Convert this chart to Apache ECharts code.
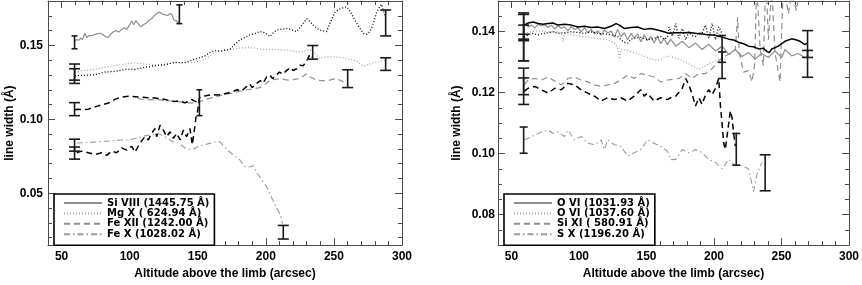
<!DOCTYPE html>
<html><head><meta charset="utf-8">
<script src="https://cdn.jsdelivr.net/npm/echarts@6/dist/echarts.min.js"></script>
<style>html,body{margin:0;padding:0;background:#fff}#c{width:862px;height:285px}</style>
</head><body><div id="c"></div>
<script>
// ---------- axes / ticks ----------
const xMajor = [50, 100, 150, 200, 250, 300];
const xMinor = [40, 50, 60, 70, 80, 90, 100, 110, 120, 130, 140, 150, 160, 170, 180, 190, 200, 210, 220, 230, 240, 250, 260, 270, 280, 290, 300];
const yLMajor = [0.05, 0.10, 0.15];
const yLMinor = [0.02, 0.03, 0.04, 0.05, 0.06, 0.07, 0.08, 0.09, 0.10, 0.11, 0.12, 0.13, 0.14, 0.15, 0.16, 0.17, 0.18];
const yRMajor = [0.08, 0.10, 0.12, 0.14];
const yRMinor = [0.07, 0.075, 0.08, 0.085, 0.09, 0.095, 0.10, 0.105, 0.11, 0.115, 0.12, 0.125, 0.13, 0.135, 0.14, 0.145, 0.15];

// ---------- left panel ----------
const legendLeft = ['Si VIII (1445.75 Å)', 'Mg X ( 624.94 Å)', 'Fe XII (1242.00 Å)', 'Fe X (1028.02 Å)'];

const siVIII_x = [59.5, 61, 62.5, 64, 65.5, 67, 68.5, 70, 72, 74, 76, 78, 80, 82, 84, 86, 88, 90, 92, 94, 96, 98, 100, 101.5, 103, 104.5, 106, 108, 110, 112, 114, 116, 118, 120, 122, 124, 126, 128, 129.5, 131, 132.5, 134, 135.5, 136.5];
const siVIII_y = [0.1527, 0.1540, 0.1535, 0.1548, 0.1540, 0.1582, 0.1552, 0.1568, 0.1565, 0.1572, 0.1578, 0.1582, 0.1575, 0.1560, 0.1552, 0.1575, 0.1592, 0.1600, 0.1590, 0.1608, 0.1618, 0.1610, 0.1640, 0.1665, 0.1640, 0.1668, 0.1648, 0.1625, 0.1640, 0.1650, 0.1668, 0.1680, 0.1700, 0.1718, 0.1725, 0.1712, 0.1706, 0.1702, 0.1715, 0.1708, 0.1670, 0.1668, 0.1655, 0.1660];

const mgX_x = [59.8, 64, 67.2, 71, 74.5, 78, 81.9, 86, 89.2, 93, 96.6, 100, 103.9, 108, 111.2, 115, 118.6, 122, 125.9, 130, 133.3, 137, 140.6, 144, 148, 152, 155.3, 159, 162.7, 166.3, 171, 176.1, 180, 183.4, 187, 190.8, 194, 198.1, 202, 205.5, 210, 215.3, 220, 225.1, 229, 232.4, 236, 239.7, 243, 247.1, 251, 254.4, 259, 264.2, 268, 271.6, 275, 278.9, 283, 286.3, 289];
const mgX_y = [0.1320, 0.1328, 0.1331, 0.1334, 0.1337, 0.1345, 0.1353, 0.1358, 0.1363, 0.1368, 0.1374, 0.1378, 0.1381, 0.1377, 0.1374, 0.1371, 0.1368, 0.1372, 0.1374, 0.1380, 0.1385, 0.1383, 0.1381, 0.1383, 0.1385, 0.1395, 0.1407, 0.1428, 0.1451, 0.1462, 0.1470, 0.1475, 0.1482, 0.1483, 0.1485, 0.1483, 0.1478, 0.1473, 0.1472, 0.1473, 0.1470, 0.1468, 0.1462, 0.1455, 0.1462, 0.1473, 0.1445, 0.1411, 0.1420, 0.1425, 0.1422, 0.1418, 0.1412, 0.1403, 0.1385, 0.1357, 0.1370, 0.1381, 0.1390, 0.1396, 0.1400];

const mgXb_x = [59.8, 63, 67.2, 71, 74.5, 78, 81.9, 86, 89.2, 93, 96.6, 100, 103.9, 108, 111.2, 115, 118.6, 122, 125.9, 130, 133.3, 137, 140.6, 144, 148, 152, 155.3, 159, 162.7, 166.3, 170, 173.6, 177, 181, 184.5, 188.3, 192, 195.7, 199.5, 203, 205.5, 207.9, 211.5, 215.3, 219, 222.6, 226, 230, 232.5, 234.9, 237.5, 239.8, 242, 244.6, 247.5, 250.8, 254, 257, 259.3, 262, 264.2, 268, 271.6, 274, 276.5, 279, 281.4, 283.5, 285, 286.5, 288];
const mgXb_y = [0.1294, 0.1297, 0.1298, 0.1300, 0.1302, 0.1310, 0.1320, 0.1322, 0.1324, 0.1330, 0.1337, 0.1338, 0.1337, 0.1346, 0.1353, 0.1357, 0.1363, 0.1365, 0.1368, 0.1378, 0.1385, 0.1383, 0.1385, 0.1395, 0.1407, 0.1418, 0.1429, 0.1452, 0.1465, 0.1462, 0.1468, 0.1473, 0.1505, 0.1538, 0.1552, 0.1571, 0.1580, 0.1593, 0.1585, 0.1560, 0.1585, 0.1604, 0.1610, 0.1614, 0.1605, 0.1593, 0.1630, 0.1680, 0.1660, 0.1636, 0.1615, 0.1604, 0.1598, 0.1593, 0.1660, 0.1724, 0.1745, 0.1755, 0.1761, 0.1730, 0.1691, 0.1630, 0.1582, 0.1575, 0.1593, 0.1650, 0.1724, 0.1760, 0.1778, 0.1730, 0.1691];

const feXII_x = [106, 110, 115, 120, 125, 130, 135, 140, 145, 150, 154, 158, 162, 166.3, 171, 176.1, 181, 185.9, 190, 195.7, 200, 203, 207, 210.4, 214, 217.7, 221, 225.1, 228, 230, 233, 237.3, 241, 244.6, 248, 252, 255, 257];
const feXII_y = [0.1140, 0.1136, 0.1132, 0.1134, 0.1128, 0.1124, 0.1120, 0.1115, 0.1110, 0.1112, 0.1130, 0.1140, 0.1150, 0.1160, 0.1170, 0.1178, 0.1190, 0.1200, 0.1205, 0.1215, 0.1240, 0.1265, 0.1270, 0.1276, 0.1268, 0.1265, 0.1270, 0.1276, 0.1295, 0.1309, 0.1285, 0.1265, 0.1262, 0.1259, 0.1268, 0.1276, 0.1262, 0.1254];

const feXIIa_x = [59.8, 62.3, 66, 69.6, 73, 77, 81, 84.3, 87, 89.2, 94, 99, 104, 108.8, 114, 118.6, 122, 125.9, 128, 130.8, 133, 135.7, 138, 140.6, 143, 145.5, 147.5, 149.2];
const feXIIa_y = [0.1065, 0.1068, 0.1066, 0.1069, 0.1080, 0.1091, 0.1102, 0.1110, 0.1123, 0.1135, 0.1150, 0.1156, 0.1153, 0.1149, 0.1146, 0.1145, 0.1140, 0.1134, 0.1130, 0.1126, 0.1120, 0.1124, 0.1118, 0.1112, 0.1120, 0.1134, 0.1125, 0.1118];

const feXIIb_x = [61.1, 64.7, 69.6, 74.5, 79.4, 83.1, 86.8, 90.4, 94.1, 97.8, 101.5, 103.9, 107.6, 111.2, 113.7, 116.1, 118.6, 119.8, 122.3, 124.7, 127.2, 129.6, 132.1, 134.5, 137, 139.4, 141.8, 144.3, 146, 147.5, 148.7, 149.9, 151.2, 152.9, 156, 160.2, 164, 167.6, 172, 176.1, 179, 182, 185.9, 188, 190, 193.2, 196, 198, 200.6, 203, 205, 207.9, 210, 212.5, 215.3, 218, 220, 222.6, 225, 227.5, 230, 232.4, 233.5];
const feXIIb_y = [0.0774, 0.0785, 0.0774, 0.0763, 0.0774, 0.0757, 0.0785, 0.0774, 0.0807, 0.0792, 0.0818, 0.0779, 0.0840, 0.0883, 0.0861, 0.0905, 0.0938, 0.0883, 0.0960, 0.0927, 0.0883, 0.0916, 0.0872, 0.0905, 0.0861, 0.0927, 0.0883, 0.0938, 0.0829, 0.0927, 0.1014, 0.1058, 0.1145, 0.1156, 0.1160, 0.1167, 0.1165, 0.1167, 0.1178, 0.1189, 0.1200, 0.1190, 0.1222, 0.1240, 0.1215, 0.1243, 0.1262, 0.1245, 0.1287, 0.1300, 0.1275, 0.1302, 0.1320, 0.1305, 0.1331, 0.1350, 0.1330, 0.1342, 0.1365, 0.1363, 0.1395, 0.1440, 0.1420];

const feX_x = [61.1, 65, 69.6, 74, 79.4, 84, 89.2, 94, 99, 104, 108.8, 112, 116.1, 118, 121, 123, 125.9, 128, 130.8, 133, 135.7, 138, 140.6, 143, 145.5, 148, 150.4, 153, 155.3, 158, 160.2, 163.9, 166.3, 169, 171.2, 176.1, 181, 183.4, 185.9, 188.3, 190.8, 193.2, 195.7, 198, 200.6, 203, 205.5, 208, 210.4, 212.3];
const feX_y = [0.0840, 0.0842, 0.0844, 0.0846, 0.0851, 0.0853, 0.0857, 0.0860, 0.0861, 0.0870, 0.0883, 0.0890, 0.0894, 0.0900, 0.0905, 0.0896, 0.0883, 0.0870, 0.0851, 0.0845, 0.0840, 0.0825, 0.0807, 0.0800, 0.0796, 0.0805, 0.0818, 0.0822, 0.0829, 0.0836, 0.0840, 0.0851, 0.0848, 0.0820, 0.0796, 0.0760, 0.0725, 0.0690, 0.0676, 0.0680, 0.0687, 0.0640, 0.0610, 0.0575, 0.0545, 0.0495, 0.0447, 0.0400, 0.0360, 0.0294];

// error bars (x, low, high)
const errLN_x = [59.5, 136.5, 151.2];
const errLN_lo = [0.1477, 0.1647, 0.1025];
const errLN_hi = [0.1564, 0.1774, 0.1200];
const errLW_x = [59.5, 59.5, 288, 288, 59.5, 234.4, 260.1, 59.5, 59.5, 212.8];
const errLW_lo = [0.1265, 0.1243, 0.1331, 0.1564, 0.1025, 0.1407, 0.1215, 0.0731, 0.0785, 0.0191];
const errLW_hi = [0.1374, 0.1342, 0.1416, 0.1739, 0.1113, 0.1499, 0.1335, 0.0813, 0.0866, 0.0283];

// ---------- right panel ----------
const legendRight = ['O VI (1031.93 Å)', 'O VI (1037.60 Å)', 'Si XI ( 580.91 Å)', 'S X (1196.20 Å)'];

const oviAb_x = [59.4, 62.3, 66.0, 69.7, 73.4, 77.1, 80.8, 84.4, 89.3, 94.3, 99.2, 104.1, 109.0, 113.9, 118.8, 123.7, 127.4, 129.9, 133.5, 138.5, 143.4, 148.3, 153.2, 158.1, 163.0, 166.7, 171.6, 176.5, 181.4, 186.3, 191.2, 196.1, 201.1, 203.5, 207.2, 210.9, 214.6, 218.2, 221.9, 225.6, 229.3, 233.0, 236.6, 239.1, 241, 242.8, 245.2, 247.7, 250.2, 252.6, 255.1, 257.5, 258.7, 261.2, 263.7, 265, 267.3, 269];
const oviAb_y = [0.1421, 0.1428, 0.1431, 0.1426, 0.1424, 0.1426, 0.1428, 0.1421, 0.1424, 0.1421, 0.1415, 0.1417, 0.1413, 0.1415, 0.1410, 0.1417, 0.1426, 0.1421, 0.1410, 0.1413, 0.1415, 0.1407, 0.1410, 0.1405, 0.1399, 0.1394, 0.1396, 0.1396, 0.1397, 0.1394, 0.1392, 0.1389, 0.1388, 0.1384, 0.1380, 0.1375, 0.1372, 0.1365, 0.1360, 0.1352, 0.1350, 0.1343, 0.1345, 0.1335, 0.1331, 0.1343, 0.1347, 0.1352, 0.1360, 0.1368, 0.1372, 0.1376, 0.1378, 0.1372, 0.1368, 0.1365, 0.1357, 0.1362];

const oviA_x = [59.4, 61.1, 62.3, 64.8, 67.3, 69.7, 72.2, 74.6, 77.1, 79.5, 82.0, 84.4, 86.9, 89.3, 91.8, 94.3, 96.7, 99.2, 101.6, 104.1, 106.5, 109.0, 111.5, 113.9, 116.4, 118.8, 121.3, 123.7, 126.2, 128.6, 131.1, 133.5, 136.0, 138.5, 140.9, 143.4, 145.8, 148.3, 150.7, 153.2, 155.6, 158.1, 160.5, 163.0, 165.5, 167.9, 171.6, 176.5, 181.4, 186.3, 191.2, 196.1, 201.1, 206.0, 210.9, 215.8, 220.7, 225.6, 230.5, 235.4, 240.3, 245.2, 250.2, 252.6, 257.5, 262.4, 267.3];
const oviA_y = [0.1417, 0.1426, 0.1415, 0.1421, 0.1412, 0.1424, 0.1418, 0.1422, 0.1413, 0.1421, 0.1408, 0.1419, 0.1411, 0.1415, 0.1403, 0.1417, 0.1406, 0.1413, 0.1399, 0.1412, 0.1396, 0.1407, 0.1392, 0.1403, 0.1388, 0.1405, 0.1395, 0.1402, 0.1381, 0.1407, 0.1383, 0.1396, 0.1373, 0.1394, 0.1378, 0.1392, 0.1366, 0.1389, 0.1370, 0.1384, 0.1362, 0.1385, 0.1360, 0.1378, 0.1357, 0.1375, 0.1352, 0.1368, 0.1347, 0.1362, 0.1341, 0.1358, 0.1336, 0.1352, 0.1325, 0.1341, 0.1318, 0.1331, 0.1310, 0.1328, 0.1315, 0.1336, 0.1315, 0.1341, 0.1320, 0.1328, 0.1315];

const oviBb_x = [59.4, 62.3, 64.8, 67.3, 69.7, 72.2, 74.6, 77.1, 80.8, 84.4, 89.3, 94.3, 99.2, 104.1, 109.0, 113.9, 118.8, 123.7, 128.6, 131.1, 133.5, 136.0, 138.5, 140.9, 145.8, 150.7, 155.6, 160.5, 163.0, 165.5, 166.7, 169.1, 171.6, 174.0, 176.5, 179.0, 181.4, 183.9, 186.3, 188.8, 191.2, 193.7, 196.1, 198.6, 201.1, 203.5, 206.0];
const oviBb_y = [0.1381, 0.1389, 0.1394, 0.1392, 0.1389, 0.1392, 0.1394, 0.1396, 0.1399, 0.1394, 0.1396, 0.1399, 0.1397, 0.1394, 0.1399, 0.1394, 0.1392, 0.1389, 0.1384, 0.1373, 0.1365, 0.1362, 0.1375, 0.1378, 0.1381, 0.1373, 0.1378, 0.1384, 0.1375, 0.1381, 0.1415, 0.1384, 0.1426, 0.1378, 0.1410, 0.1373, 0.1399, 0.1386, 0.1384, 0.1396, 0.1394, 0.1421, 0.1378, 0.1426, 0.1373, 0.1415, 0.1394];

const oviB_x = [59.4, 64.8, 69.7, 77.1, 84.4, 86.9, 88.1, 89.3, 94.3, 101.6, 111.5, 121.3, 126.2, 128.6, 129.9, 131.1, 133.5, 140.9, 148.3, 153.2, 158.1, 163.0, 166.7, 174.0, 181.4, 188.8, 196.1, 201.1, 204.7];
const oviB_y = [0.1394, 0.1399, 0.1403, 0.1399, 0.1399, 0.1394, 0.1368, 0.1394, 0.1389, 0.1384, 0.1378, 0.1373, 0.1362, 0.1347, 0.1310, 0.1341, 0.1341, 0.1331, 0.1320, 0.1310, 0.1304, 0.1315, 0.1320, 0.1310, 0.1294, 0.1276, 0.1294, 0.1304, 0.1315];

const siXI_x = [59.4, 62.3, 67.3, 72.2, 77.1, 82.0, 86.9, 91.8, 96.7, 101.6, 106.5, 111.5, 116.4, 121.3, 126.2, 131.1, 136.0, 140.9, 145.8, 150.7, 155.6, 160.5, 165.5, 166.7, 174.0, 179.0, 183.9, 188.8, 193.7, 198.6, 203.5, 208.4, 213.3, 215.8, 217.5, 218.7, 221.9, 225.6, 228.1, 230.0, 231.7, 234.2, 236.6, 238.4, 240.3, 242.8, 245.2, 248.9, 251.4, 255.1, 257.5, 261.2, 263.7];
const siXI_y = [0.1225, 0.1241, 0.1246, 0.1241, 0.1251, 0.1238, 0.1225, 0.1246, 0.1251, 0.1241, 0.1235, 0.1225, 0.1220, 0.1225, 0.1230, 0.1241, 0.1257, 0.1246, 0.1262, 0.1257, 0.1251, 0.1235, 0.1241, 0.1235, 0.1246, 0.1262, 0.1246, 0.1262, 0.1262, 0.1278, 0.1304, 0.1320, 0.1331, 0.1341, 0.1447, 0.1331, 0.1267, 0.1272, 0.1235, 0.1288, 0.1553, 0.1341, 0.1288, 0.1585, 0.1373, 0.1542, 0.1331, 0.1235, 0.1563, 0.1458, 0.1521, 0.1468, 0.1563];

const siXIb_x = [59.4, 62.3, 67.3, 72.2, 77.1, 82.0, 86.9, 91.8, 96.7, 101.6, 106.5, 111.5, 116.4, 121.3, 126.2, 131.1, 136.0, 140.9, 145.8, 148.3, 150.7, 155.6, 160.5, 165.5, 168, 171.6, 176.5, 179.0, 181.4, 183.9, 186.3, 188.8, 191.2, 193.7, 196.1, 198.6, 201.1, 203.5, 204.7, 206.0, 207.2, 208.4, 209.6, 210.9, 212.1, 213.3, 214.6, 215.8];
const siXIb_y = [0.1204, 0.1214, 0.1220, 0.1209, 0.1198, 0.1214, 0.1209, 0.1230, 0.1225, 0.1209, 0.1198, 0.1188, 0.1172, 0.1183, 0.1177, 0.1183, 0.1172, 0.1188, 0.1209, 0.1188, 0.1198, 0.1172, 0.1183, 0.1177, 0.1183, 0.1188, 0.1214, 0.1246, 0.1225, 0.1193, 0.1156, 0.1183, 0.1161, 0.1193, 0.1209, 0.1193, 0.1214, 0.1246, 0.1161, 0.1098, 0.1034, 0.1013, 0.1056, 0.1098, 0.1140, 0.1119, 0.1066, 0.1024];

const sX_x = [59.4, 62.3, 67.3, 72.2, 77.1, 80.8, 84.4, 89.3, 91.8, 96.7, 101.6, 106.5, 111.5, 116.4, 118.8, 121.3, 126.2, 131.1, 136.0, 140.9, 145.8, 150.7, 155.6, 160.5, 165.5, 168, 171.6, 176.5, 181.4, 186.3, 191.2, 196.1, 201.1, 206.0, 210.9, 215.8, 220.7, 225.6, 229.3, 231.7, 235.4];
const sX_y = [0.1045, 0.1050, 0.1061, 0.1071, 0.1077, 0.1066, 0.1071, 0.1056, 0.1077, 0.1045, 0.1056, 0.1034, 0.1029, 0.1045, 0.1013, 0.1045, 0.1029, 0.1024, 0.0992, 0.1003, 0.1013, 0.1045, 0.1034, 0.1024, 0.1008, 0.0980, 0.0981, 0.1013, 0.1003, 0.1013, 0.1003, 0.0981, 0.0971, 0.0950, 0.0981, 0.0960, 0.0960, 0.0950, 0.0876, 0.0929, 0.0971];

const errRW_x = [59, 59, 59, 59, 59, 59, 237.9, 269.3, 269.3];
const errRW_lo = [0.1375, 0.1370, 0.1304, 0.1304, 0.1193, 0.1161, 0.0878, 0.1315, 0.1250];
const errRW_hi = [0.1461, 0.1456, 0.1391, 0.1421, 0.1280, 0.1248, 0.0996, 0.1403, 0.1338];
const errRN_x = [59, 206, 206, 216.5];
const errRN_lo = [0.1001, 0.1299, 0.1246, 0.0962];
const errRN_hi = [0.1087, 0.1387, 0.1333, 0.1066];

// ---------- build ----------
const zip = (a, b) => a.map((v, i) => [v, b[i]]);
const zip3 = (a, b, c) => a.map((v, i) => [v, b[i], c[i]]);
const AX = '#4a4a4a';
const FONT = 'Liberation Sans';
const GRAY = '#8f8f8f';
const DOT = [1, 2], DASH = [6, 4], DASHDOT = [6, 3, 1.5, 3];

function xAxes(g) {
  const base = {gridIndex: g, type: 'value', min: 40, max: 300, splitLine: {show: false}};
  return [
    Object.assign({}, base, {position: 'bottom',
      axisLine: {show: true, onZero: false, lineStyle: {color: AX, width: 1}},
      axisTick: {show: true, inside: true, length: 7, customValues: xMajor, lineStyle: {color: AX}},
      axisLabel: {show: true, customValues: xMajor, margin: 6, color: '#000', fontFamily: FONT, fontWeight: 'bold', fontSize: 12},
      name: 'Altitude above the limb (arcsec)', nameLocation: 'middle', nameGap: 18,
      nameTextStyle: {color: '#000', fontFamily: FONT, fontWeight: 'bold', fontSize: 12}}),
    Object.assign({}, base, {position: 'bottom', axisLine: {show: false, onZero: false},
      axisTick: {show: true, inside: true, length: 4, customValues: xMinor, lineStyle: {color: AX}}, axisLabel: {show: false}}),
    Object.assign({}, base, {position: 'top', axisLine: {show: true, onZero: false, lineStyle: {color: AX, width: 1}},
      axisTick: {show: true, inside: true, length: 7, customValues: xMajor, lineStyle: {color: AX}}, axisLabel: {show: false}}),
    Object.assign({}, base, {position: 'top', axisLine: {show: false, onZero: false},
      axisTick: {show: true, inside: true, length: 4, customValues: xMinor, lineStyle: {color: AX}}, axisLabel: {show: false}})
  ];
}
function yAxes(g, min, max, major, minor, gap, margin) {
  const base = {gridIndex: g, type: 'value', min: min, max: max, splitLine: {show: false}};
  return [
    Object.assign({}, base, {position: 'left',
      axisLine: {show: true, onZero: false, lineStyle: {color: AX, width: 1}},
      axisTick: {show: true, inside: true, length: 7, customValues: major, lineStyle: {color: AX}},
      axisLabel: {show: true, customValues: major, margin: margin, color: '#000', fontFamily: FONT, fontWeight: 'bold', fontSize: 12,
        formatter: v => Number(v).toFixed(2)},
      name: 'line width (Å)', nameLocation: 'middle', nameGap: gap,
      nameTextStyle: {color: '#000', fontFamily: FONT, fontWeight: 'bold', fontSize: 12}}),
    Object.assign({}, base, {position: 'left', axisLine: {show: false, onZero: false},
      axisTick: {show: true, inside: true, length: 4, customValues: minor, lineStyle: {color: AX}}, axisLabel: {show: false}}),
    Object.assign({}, base, {position: 'right', axisLine: {show: true, onZero: false, lineStyle: {color: AX, width: 1}},
      axisTick: {show: true, inside: true, length: 7, customValues: major, lineStyle: {color: AX}}, axisLabel: {show: false}}),
    Object.assign({}, base, {position: 'right', axisLine: {show: false, onZero: false},
      axisTick: {show: true, inside: true, length: 4, customValues: minor, lineStyle: {color: AX}}, axisLabel: {show: false}})
  ];
}
function line(name, xs, ys, g, color, width, dash, z) {
  return {name: name, type: 'line', xAxisIndex: g * 4, yAxisIndex: g * 4, data: zip(xs, ys),
    symbol: 'none', showSymbol: false, silent: true, clip: true, z: z || 2,
    lineStyle: {color: color, width: width, type: dash}, itemStyle: {color: color}};
}
function errBars(xs, lo, hi, g, half) {
  return {type: 'custom', xAxisIndex: g * 4, yAxisIndex: g * 4, data: zip3(xs, lo, hi), silent: true, z: 5,
    encode: {x: 0, y: [1, 2]},
    renderItem: function (params, api) {
      const x = api.value(0);
      const a = api.coord([x, api.value(1)]), b = api.coord([x, api.value(2)]);
      const st = {stroke: '#1a1a1a', lineWidth: 1.6};
      return {type: 'group', children: [
        {type: 'line', shape: {x1: a[0], y1: a[1], x2: b[0], y2: b[1]}, style: st},
        {type: 'line', shape: {x1: a[0] - half, y1: a[1], x2: a[0] + half, y2: a[1]}, style: st},
        {type: 'line', shape: {x1: b[0] - half, y1: b[1], x2: b[0] + half, y2: b[1]}, style: st}
      ]};
    }};
}
function legendBox(left, names) {
  return {show: true, left: left, top: 194, orient: 'vertical', data: names, selectedMode: false,
    itemWidth: 38, itemHeight: 9, itemGap: 0.4, padding: [4, 5, 6, 9],
    itemStyle: {opacity: 0, borderWidth: 0},
    borderColor: '#000', borderWidth: 1.6, backgroundColor: '#fff', z: 10,
    textStyle: {color: '#000', fontFamily: 'DejaVu Sans', fontWeight: 'bold', fontSize: 10, lineHeight: 9}};
}

const option = {
  animation: false,
  backgroundColor: '#fff',
  grid: [
    {left: 48, top: 1, width: 354, height: 251},
    {left: 498, top: 1, width: 353, height: 251}
  ],
  xAxis: xAxes(0).concat(xAxes(1)),
  yAxis: yAxes(0, 0.015, 0.18, yLMajor, yLMinor, 31, 5).concat(yAxes(1, 0.07, 0.15, yRMajor, yRMinor, 35, 3)),
  legend: [legendBox(54, legendLeft), legendBox(504, legendRight)],
  series: [
    line(legendLeft[0], siVIII_x, siVIII_y, 0, GRAY, 1.2, 'solid'),
    line(legendLeft[1], mgX_x, mgX_y, 0, '#a0a0a0', 1.2, DOT),
    line(legendLeft[2], feXII_x, feXII_y, 0, GRAY, 1.2, DASH),
    line(legendLeft[3], feX_x, feX_y, 0, '#9a9a9a', 1.1, DASHDOT),
    line('Mg X b', mgXb_x, mgXb_y, 0, '#000', 1.3, DOT, 3),
    line('Fe XII a', feXIIa_x, feXIIa_y, 0, '#000', 1.5, DASH, 3),
    line('Fe XII b', feXIIb_x, feXIIb_y, 0, '#000', 1.5, DASH, 3),
    errBars(errLN_x, errLN_lo, errLN_hi, 0, 3),
    errBars(errLW_x, errLW_lo, errLW_hi, 0, 5.5),

    line(legendRight[0], oviA_x, oviA_y, 1, GRAY, 1.2, 'solid'),
    line(legendRight[1], oviB_x, oviB_y, 1, '#a0a0a0', 1.2, DOT),
    line(legendRight[2], siXI_x, siXI_y, 1, GRAY, 1.2, DASH),
    line(legendRight[3], sX_x, sX_y, 1, '#9a9a9a', 1.1, DASHDOT),
    line('O VI a b', oviAb_x, oviAb_y, 1, '#000', 1.5, 'solid', 3),
    line('O VI b b', oviBb_x, oviBb_y, 1, '#000', 1.3, DOT, 3),
    line('Si XI b', siXIb_x, siXIb_y, 1, '#000', 1.5, DASH, 3),
    errBars(errRW_x, errRW_lo, errRW_hi, 1, 5.5),
    errBars(errRN_x, errRN_lo, errRN_hi, 1, 4)
  ]
};
const chart = echarts.init(document.getElementById('c'), null, {renderer: 'canvas'});
chart.setOption(option);
</script></body></html>
